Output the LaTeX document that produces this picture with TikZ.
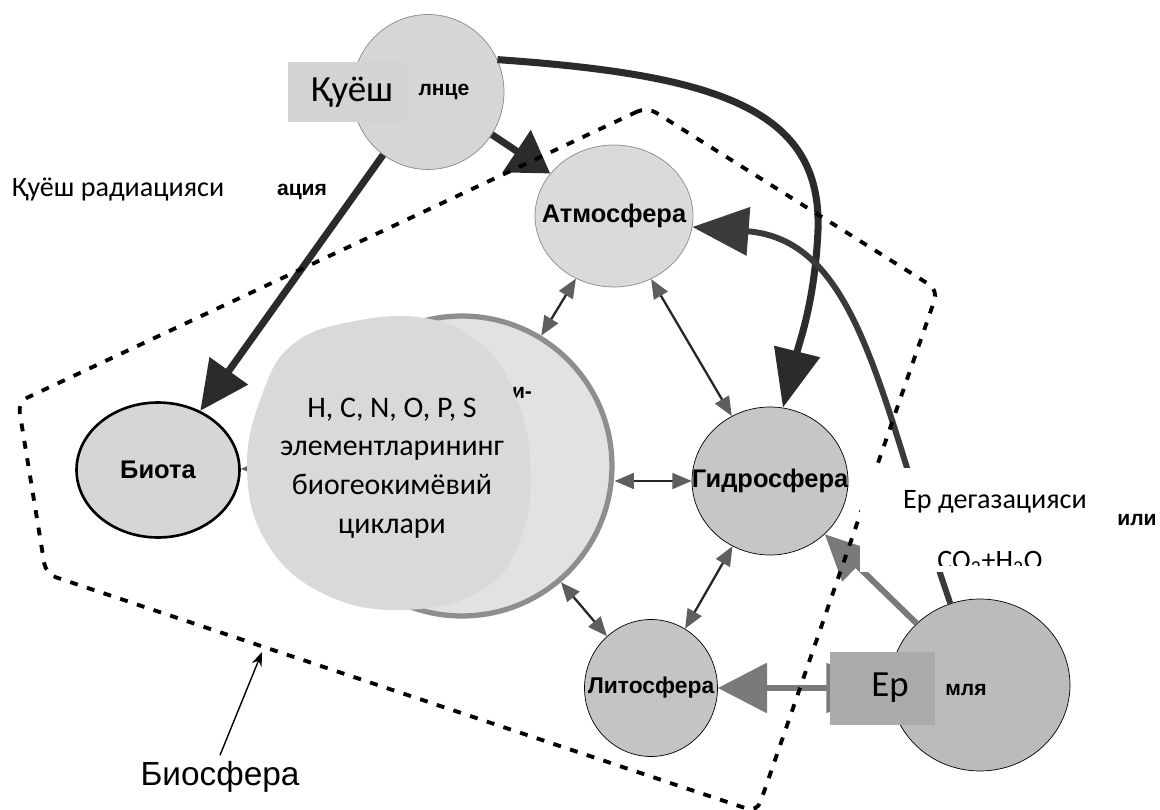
\documentclass[tikz,border=0pt]{standalone}
\usepackage{fontspec}
\setmainfont{Liberation Sans}
\newfontfamily\calfont{Carlito}
\usetikzlibrary{arrows.meta,shapes.geometric}
\definecolor{sungray}{HTML}{D6D6D6}
\definecolor{rimgray}{HTML}{8A8A8A}
\definecolor{atmgray}{HTML}{DADADA}
\definecolor{hydgray}{HTML}{C6C6C6}
\definecolor{lithgray}{HTML}{C4C4C4}
\definecolor{earthgray}{HTML}{BBBBBB}
\definecolor{biogray}{HTML}{D6D6D6}
\definecolor{cyclegray}{HTML}{E2E2E2}
\definecolor{ringgray}{HTML}{8E8E8E}
\definecolor{blobgray}{HTML}{D9D9D9}
\definecolor{boxgray}{HTML}{D3D3D3}
\definecolor{earthbox}{HTML}{ABABAB}
\definecolor{flowdark}{HTML}{2B2B2B}
\definecolor{curvegray}{HTML}{3A3A3A}
\definecolor{flowgray}{HTML}{7A7A7A}
\definecolor{tipgray}{HTML}{5E5E5E}
\tikzset{
  smalltip/.tip={Triangle[length=11pt,width=9pt,fill=tipgray,color=tipgray]},
  grayhead/.tip={Triangle[length=28pt,width=28pt,fill=flowgray,color=flowgray]}
}
\begin{document}
\begin{tikzpicture}[x=0.02cm, y=-0.02cm,
    tag/.style={font=\bfseries\fontsize{14.5}{16}\selectfont},
    sphere/.style={draw, ellipse, inner sep=0pt, label={[tag]center:#1}},
    flow/.style={line width=4pt, draw=flowdark},
    gflow/.style={line width=3.4pt, draw=flowgray},
    link/.style={line width=1.3pt, draw=black!85, smalltip-smalltip},
    bound/.style={line width=2.2pt, dash pattern=on 4.5pt off 5.5pt},
    note/.style={font=\calfont\fontsize{16}{19}\selectfont},
    bigword/.style={font=\calfont\fontsize{21}{24}\selectfont},
    bit/.style={font=\bfseries\fontsize{12}{14}\selectfont}]
  \useasboundingbox (0,0) rectangle (1160,810);

  % spheres
  \node[sphere={}, fill=sungray, draw=rimgray, minimum width=3.04cm, minimum height=3.1cm] (sun) at (428,92) {};
  \node[sphere=Атмосфера, fill=atmgray, draw=rimgray, minimum width=3.16cm, minimum height=2.84cm] (atm) at (614,216) {};
  \node[sphere=Гидросфера, fill=hydgray, minimum width=3.12cm, minimum height=2.96cm] (hyd) at (770,481) {};
  \node[sphere={}, label={[tag, font=\bfseries\fontsize{13}{15}\selectfont]center:Литосфера}, fill=lithgray, minimum width=2.66cm, minimum height=2.74cm] (lith) at (651,688) {};
  \node[sphere={}, fill=earthgray, minimum width=3.6cm, minimum height=3.44cm] (earth) at (980,685) {};
  \node[sphere=Биота, fill=biogray, line width=1.5pt, minimum width=3.26cm, minimum height=2.7cm] (biota) at (158,470) {};
  \node[circle, draw=ringgray, line width=3pt, fill=cyclegray, inner sep=0pt, minimum size=6cm] (cycle) at (462,466) {};

  % flows
  \draw[flow, -{Triangle[length=23pt,width=28pt]}] (sun) -- (atm);
  \draw[flow, -{Triangle[length=28pt,width=26pt]}] (sun) -- (biota);
  \draw[flow, -{Triangle[length=33pt,width=26pt]}] (sun.25) .. controls (720,75) and (822,110) .. (818,230) .. controls (815,300) and (800,340) .. (hyd.80);
  \draw[line width=3.4pt, draw=curvegray, -{Triangle[length=32pt,width=27pt]}] (earth.110) .. controls (880,400) and (860,240) .. (atm.-8);
  \draw[gflow, -{Triangle[length=26pt,width=24pt,fill=flowgray,color=flowgray]}] (earth) -- (hyd);
  \draw[gflow, grayhead-grayhead, shorten >=8pt] (lith.east) -- (lith.east -| earth.west);

  % exchange
  \draw[link] (atm) -- (cycle);
  \draw[link] (atm) -- (hyd);
  \draw[link] (cycle.east |- hyd.west) -- (hyd.west);
  \draw[link] (cycle) -- (lith);
  \draw[link] (hyd) -- (lith);
  \draw[line width=1.3pt, -smalltip] (cycle) -- (biota);

  % biosphere
  \draw[bound, rounded corners=6pt] (647,107) -- (18,402) -- (46,574) -- (757,812) -- (938,290) -- cycle;
  \node[font=\fontsize{19}{22}\selectfont] (biolbl) at (220,777) {Биосфера};
  \coordinate (bpoint) at (262,652);
  \draw[line width=0.8pt, -{Stealth[length=8pt,width=6pt]}] (biolbl.north) -- (bpoint);

  % patches
  \node[bit] (cyclebit) at (522,393) {и-};
  \fill[blobgray] plot[smooth cycle, tension=0.7] coordinates {(247,467) (262,395) (292,345) (350,322) (425,318) (482,345) (515,395) (530,460) (522,535) (482,590) (400,610) (320,592) (265,540)};
  \node[font=\calfont\fontsize{17}{22}\selectfont, align=center] (cycletxt) at (392,468) {H, C, N, O, P, S\\элементларининг\\биогеокимёвий\\циклари};

  \fill[boxgray] (288,62) rectangle (407,122);
  \node[bigword] (suntxt) at (352,92) {Қуёш};
  \node[bit] (sunbit) at (444,92) {лнце};

  \fill[earthbox] (830,652) rectangle (935,725);
  \node[bigword] (earthtxt) at (890,688) {Ер};
  \node[bit] (earthbit) at (966,690) {мля};

  \fill[white] (860,468) rectangle (1112,572);
  \node[note] (degas) at (995,502) {Ер дегазацияси};
  \begin{scope}
    \clip (860,468) rectangle (1112,566);
    \node[note, anchor=base] (gasmix) at (990,570) {CO\textsubscript{2}+H\textsubscript{2}O};
  \end{scope}
  \node[bit] (orbit) at (1137,520) {или};

  \node[note] (radtxt) at (118,190) {Қуёш радиацияси};
  \node[bit] (radbit) at (302,192) {ация};
\end{tikzpicture}
\end{document}
